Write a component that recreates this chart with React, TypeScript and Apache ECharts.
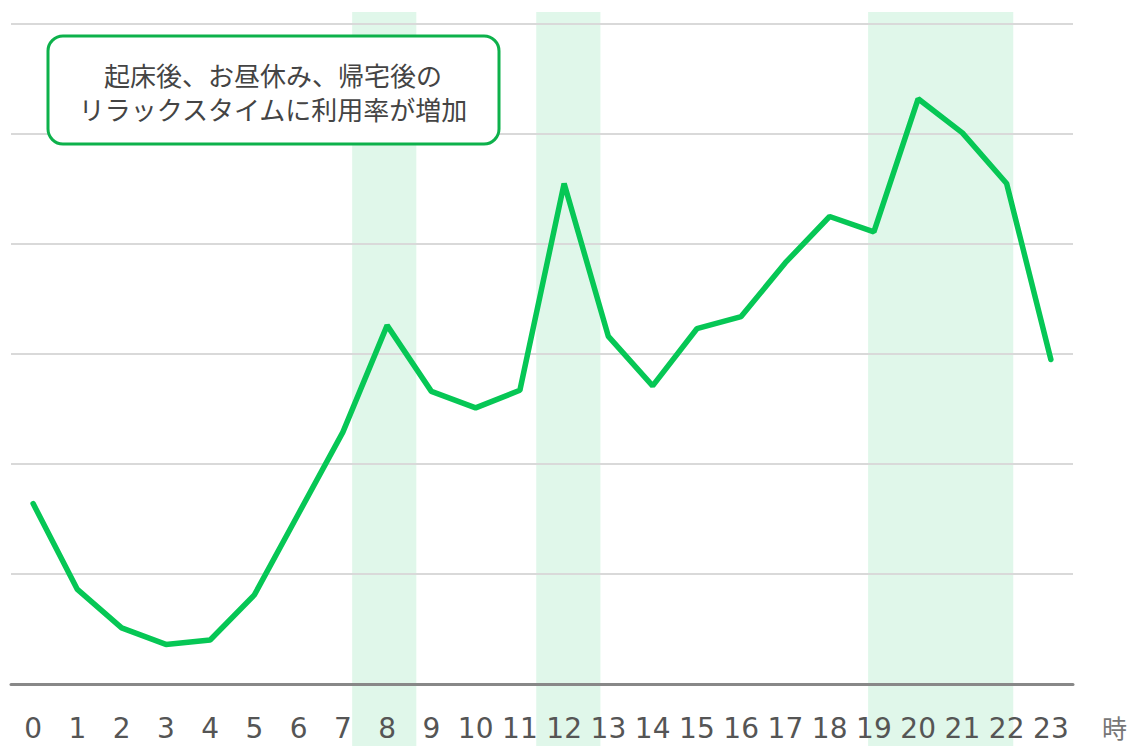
import React, { useEffect, useRef } from "react";
import * as echarts from "echarts";

const hours = ["0","1","2","3","4","5","6","7","8","9","10","11","12","13","14","15","16","17","18","19","20","21","22","23"];
const usage = [16.4, 8.6, 5.1, 3.6, 4.0, 8.1, 15.5, 22.9, 32.6, 26.6, 25.1, 26.7, 45.5, 31.6, 27.1, 32.3, 33.4, 38.3, 42.5, 41.1, 53.2, 50.1, 45.5, 29.5];
const highlightBands = [[7.21, 8.66], [11.37, 12.82], [18.87, 22.15]];
const yMin = 0;
const yMax = 60;
const yInterval = 10;
const noteLines = ["起床後、お昼休み、帰宅後の", "リラックスタイムに利用率が増加"];
const axisUnit = "時";

export default function App() {
  const ref = useRef<HTMLDivElement>(null);
  useEffect(() => {
    document.body.style.margin = "0";
    const chart = echarts.init(ref.current!, undefined, { renderer: "svg" });
    chart.setOption({
      animation: false,
      backgroundColor: "#ffffff",
      grid: { left: 11, right: 59, top: 24, bottom: 62, containLabel: false },
      xAxis: [
        {
          type: "category",
          data: hours,
          boundaryGap: true,
          axisLine: { show: true, lineStyle: { color: "#888888", width: 3 } },
          axisTick: { show: false },
          axisLabel: {
            color: "#555555",
            fontSize: 28,
            fontFamily: "DejaVu Sans",
            margin: 30,
            interval: 0,
          },
          name: axisUnit,
          nameLocation: "end",
          nameGap: 29,
          nameTextStyle: {
            color: "#777777",
            fontSize: 25,
            fontFamily: "Noto Sans CJK JP",
            verticalAlign: "top",
            padding: [30, 0, 0, 0],
          },
        },
        {
          type: "value",
          min: -0.5,
          max: 23.5,
          show: false,
        },
      ],
      yAxis: {
        type: "value",
        min: yMin,
        max: yMax,
        interval: yInterval,
        axisLine: { show: false },
        axisTick: { show: false },
        axisLabel: { show: false },
        splitLine: { show: true, lineStyle: { color: "#d9d9d9", width: 2 } },
      },
      series: [
        {
          type: "line",
          data: usage,
          xAxisIndex: 0,
          symbol: "none",
          lineStyle: { color: "#06C755", width: 5.5, cap: "round" },
          z: 5,
        },
      ],
    });

    const top = 12;
    const bottom = 746;
    const bands = highlightBands.map(([a, b]) => {
      const x1 = chart.convertToPixel({ xAxisIndex: 1 }, a) as number;
      const x2 = chart.convertToPixel({ xAxisIndex: 1 }, b) as number;
      return {
        type: "rect",
        z: -1,
        silent: true,
        shape: { x: x1, y: top, width: x2 - x1, height: bottom - top },
        style: { fill: "#E0F7EA" },
      };
    });

    chart.setOption({
      graphic: [
        ...bands,
        {
          type: "rect",
          z: 100,
          shape: { x: 48, y: 36, width: 451, height: 108, r: 15 },
          style: { fill: "#ffffff", stroke: "#0DB14B", lineWidth: 3 },
        },
        {
          type: "text",
          z: 101,
          x: 273,
          y: 91,
          style: {
            text: noteLines.join("\n"),
            fill: "#444444",
            font: '26px "Noto Sans CJK JP"',
            align: "center",
            verticalAlign: "middle",
            lineHeight: 34,
          },
        },
      ],
    });

    return () => chart.dispose();
  }, []);
  return <div ref={ref} style={{ width: 1132, height: 746 }} />;
}
